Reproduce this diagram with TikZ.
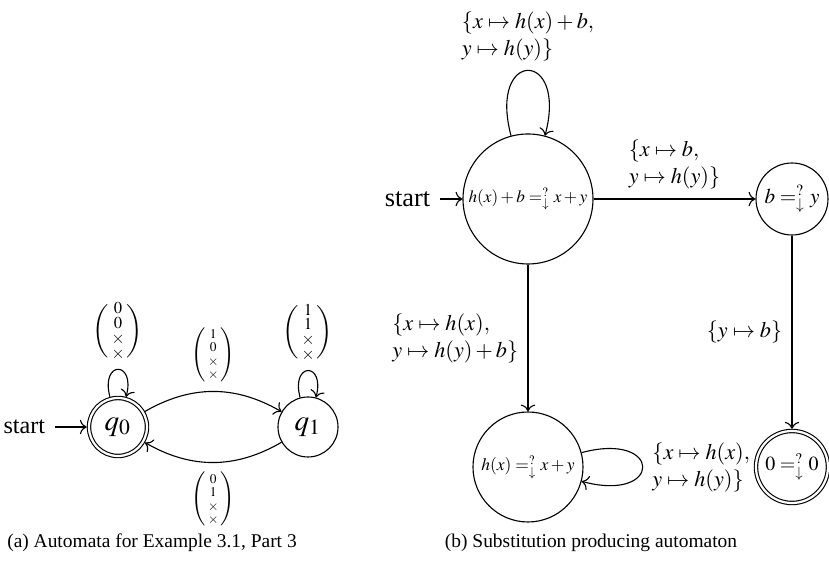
\documentclass[tikz,border=0pt]{standalone}
\usepackage{amsmath}
\usepackage{mathptmx}
\usepackage{fontspec}
\setmainfont{Liberation Serif}
\usetikzlibrary{arrows.meta}

% unification symbol: = with ? and a down arrow as scripts
\newcommand{\equnif}{\mathrel{=^{?}_{\downarrow}}}
\newcommand{\colvec}[4]{\left(\begin{smallmatrix}#1\\#2\\#3\\#4\end{smallmatrix}\right)}

\begin{document}
\begin{tikzpicture}[x=0.36pt,y=0.36pt,
  stnode/.style={circle,draw,inner sep=0pt,line width=0.4pt},
  accept/.style={double,double distance=0.8pt,outer sep=0.8pt},
  lbl/.style={font=\fontsize{8}{9.7}\selectfont,align=left},
  lblsmall/.style={font=\fontsize{8}{9.7}\selectfont},
  captext/.style={font=\fontsize{7}{8}\selectfont},
  >=To]
\useasboundingbox (0,0) rectangle (829,-564);

% ---------- (a) two-state automaton ----------
\node[stnode,accept,minimum size=58*0.36pt,font=\fontsize{10.5}{12}\selectfont] (q0) at (118,-427) {$q_0$};
\node[stnode,minimum size=60*0.36pt,font=\fontsize{10.5}{12}\selectfont] (q1) at (308,-427) {$q_1$};
\node[anchor=east,font=\fontsize{8.7}{10}\selectfont] (s1) at (55,-427) {start};
\draw[->] (s1) -- (q0);

\draw[->] (q0) to[out=105,in=75,looseness=6,min distance=0pt]
  node[above,lblsmall] {$\colvec{0}{0}{\times}{\times}$} (q0);
\draw[->] (q1) to[out=105,in=75,looseness=6,min distance=0pt]
  node[above,lblsmall] {$\colvec{1}{1}{\times}{\times}$} (q1);
\draw[->] (q0) to[bend left=30]
  node[above,font=\fontsize{6.5}{8}\selectfont] {$\colvec{1}{0}{\times}{\times}$} (q1);
\draw[->] (q1) to[bend left=30]
  node[below,font=\fontsize{6.5}{8}\selectfont] {$\colvec{0}{1}{\times}{\times}$} (q0);

% ---------- (b) substitution producing automaton ----------
\node[stnode,minimum size=130*0.36pt,font=\fontsize{6.2}{7}\selectfont] (m) at (528,-199) {$h(x)+b\equnif x+y$};
\node[stnode,minimum size=72*0.36pt,font=\fontsize{7.6}{9}\selectfont] (r) at (792,-199) {$b\equnif y$};
\node[stnode,minimum size=110*0.36pt,font=\fontsize{6.3}{7}\selectfont] (bt) at (528,-467) {$h(x)\equnif x+y$};
\node[stnode,accept,minimum size=72*0.36pt,font=\fontsize{7.2}{9}\selectfont] (f) at (792,-467) {$0\equnif 0$};
\node[anchor=east,font=\fontsize{9.5}{11}\selectfont] (s2) at (440,-199) {start};
\draw[->] (s2) -- (m);

\draw[->] (m) to[out=105,in=75,looseness=6.8,min distance=5mm]
  node[above,lbl] {$\{x\mapsto h(x)+b,$\\$y\mapsto h(y)\}$} (m);
\draw[->] (m) -- node[above,lbl] {$\{x\mapsto b,$\\$y\mapsto h(y)\}$} (r);
\draw[->] (m) -- node[left,lbl] {$\{x\mapsto h(x),$\\$y\mapsto h(y)+b\}$} (bt);
\draw[->] (r) -- node[left,lbl] {$\{y\mapsto b\}$} (f);
\draw[->] (bt) to[out=15,in=-15,looseness=7.5,min distance=5mm]
  node[right,lbl] {$\{x\mapsto h(x),$\\$y\mapsto h(y)\}$} (bt);

% ---------- captions ----------
\node[captext] (capa) at (152,-543) {(a) Automata for Example 3.1, Part 3};
\node[captext] (capb) at (591,-543) {(b) Substitution producing automaton};
\end{tikzpicture}
\end{document}
